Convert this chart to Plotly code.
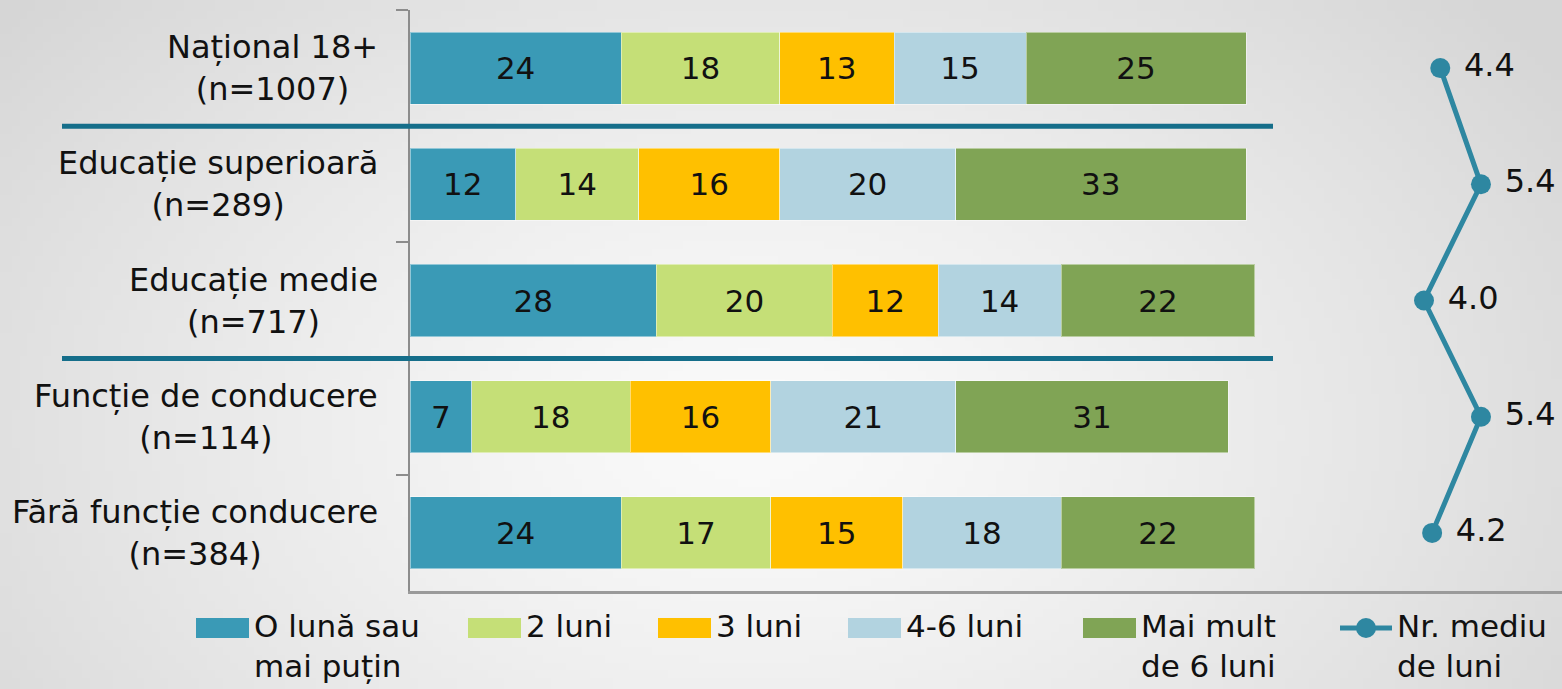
import base64, struct, zlib, math
import plotly.graph_objects as go

# ---------------- data ----------------
categories = ["Național 18+<br>(n=1007)", "Educație superioară<br>(n=289)", "Educație medie<br>(n=717)",
              "Funcție de conducere<br>(n=114)", "Fără funcție conducere<br>(n=384)"]
series_names = ["O lună sau<br>mai puțin", "2 luni", "3 luni", "4-6 luni", "Mai mult<br>de 6 luni"]
s_one_month = [24, 12, 28, 7, 24]
s_two_months = [18, 14, 20, 18, 17]
s_three_months = [13, 16, 12, 16, 15]
s_four_six = [15, 20, 14, 21, 18]
s_more_six = [25, 33, 22, 31, 22]
line_name = "Nr. mediu<br>de luni"
avg_months = [4.4, 5.4, 4.0, 5.4, 4.2]

series_values = [s_one_month, s_two_months, s_three_months, s_four_six, s_more_six]
colors = ["#3A9AB6", "#C5DF77", "#FFC000", "#B2D3E0", "#80A455"]
line_color = "#2E87A1"
sep_color = "#156E8A"

W, H = 1562, 689
FONT = "DejaVu Sans, Verdana, sans-serif"

# ---------------- background gradient image ----------------
def make_bg(w=200, h=90):
    cx, cy = 0.48 * w, 0.62 * h
    rx, ry = 0.62 * w, 0.95 * h
    raw = bytearray()
    for j in range(h):
        raw.append(0)
        for i in range(w):
            r = math.sqrt(((i - cx) / rx) ** 2 + ((j - cy) / ry) ** 2)
            g = int(round(250 - 36 * min(1.0, r) ** 1.3))
            raw.append(max(0, min(255, g)))
    def chunk(t, d):
        c = struct.pack(">I", len(d)) + t + d
        return c + struct.pack(">I", zlib.crc32(t + d) & 0xffffffff)
    png = b"\x89PNG\r\n\x1a\n" + chunk(b"IHDR", struct.pack(">IIBBBBB", w, h, 8, 0, 0, 0, 0)) \
        + chunk(b"IDAT", zlib.compress(bytes(raw), 9)) + chunk(b"IEND", b"")
    return "data:image/png;base64," + base64.b64encode(png).decode()

def px(x):
    return x / W

def py(y):
    return 1 - y / H

fig = go.Figure()

for name, vals, col in zip(series_names, series_values, colors):
    fig.add_trace(go.Bar(
        y=categories, x=vals, orientation="h", name=name.replace("<br>", " "),
        marker=dict(color=col, line=dict(color="rgba(255,255,255,0.45)", width=1)),
        text=vals, texttemplate="%{x}", textposition="inside", insidetextanchor="middle",
        textangle=0, textfont=dict(family=FONT, size=31, color="#111111"),
        constraintext="none", cliponaxis=False, showlegend=False,
        xaxis="x", yaxis="y",
    ))

fig.add_trace(go.Scatter(
    y=categories, x=avg_months, mode="lines+markers+text", name=line_name.replace("<br>", " "),
    line=dict(color=line_color, width=5), marker=dict(size=20, color=line_color),
    text=[f"{v:.1f}" for v in avg_months], texttemplate=" %{text}", textposition="middle right",
    textfont=dict(family=FONT, size=32, color="#111111"),
    cliponaxis=False, showlegend=False, xaxis="x2", yaxis="y",
))

# separator lines
shapes = []
for yb in [0.5, 2.5]:
    shapes.append(dict(type="line", xref="paper", yref="y", x0=px(62), x1=px(1273), y0=yb, y1=yb,
                       line=dict(color=sep_color, width=5), layer="above"))

annotations = []
# category labels
for i, c in enumerate(categories):
    annotations.append(dict(xref="paper", yref="y", x=px(380), y=i, text=c, showarrow=False,
                            xanchor="right", yanchor="middle", align="center",
                            font=dict(family=FONT, size=32, color="#111111")))

# manual legend
LEG_TOP = 606
sw_x = [196, 468, 658, 848, 1083]
for x0, col, name in zip(sw_x, colors, series_names):
    shapes.append(dict(type="rect", xref="paper", yref="paper", x0=px(x0), x1=px(x0 + 53),
                       y0=py(638), y1=py(618), fillcolor=col, line=dict(width=0)))
    annotations.append(dict(xref="paper", yref="paper", x=px(x0 + 56), y=py(LEG_TOP), text=name,
                            showarrow=False, xanchor="left", yanchor="top", align="left",
                            font=dict(family=FONT, size=31, color="#111111")))
lx = 1340
shapes.append(dict(type="line", xref="paper", yref="paper", x0=px(lx), x1=px(lx + 52), y0=py(628), y1=py(628),
                   line=dict(color=line_color, width=5)))
shapes.append(dict(type="circle", xref="paper", yref="paper", x0=px(lx + 16), x1=px(lx + 36),
                   y0=py(638), y1=py(618), fillcolor=line_color, line=dict(width=0)))
annotations.append(dict(xref="paper", yref="paper", x=px(lx + 55), y=py(LEG_TOP), text=line_name,
                        showarrow=False, xanchor="left", yanchor="top", align="left",
                        font=dict(family=FONT, size=31, color="#111111")))

x_units = 8.8  # px per percent
fig.update_layout(
    width=W, height=H, barmode="stack", bargap=0.38,
    margin=dict(l=0, r=0, t=0, b=0),
    paper_bgcolor="#e0e0e0", plot_bgcolor="rgba(0,0,0,0)",
    font=dict(family=FONT, size=30, color="#111111"),
    xaxis=dict(domain=[px(410), 1], range=[0, (W - 410) / x_units], showgrid=False, zeroline=False,
               showticklabels=False, ticks="", showline=True, linecolor="#9a9a9a", linewidth=3,
               anchor="y", fixedrange=True),
    xaxis2=dict(domain=[px(1300), 1], range=[4 - 124 / 40.7, 4 + 138 / 40.7], visible=False,
                anchor="y", fixedrange=True),
    yaxis=dict(domain=[py(591), py(10)], autorange="reversed", type="category",
               showticklabels=False, showgrid=False, zeroline=False, showline=True,
               linecolor="#8c8c8c", linewidth=2, ticks="outside", tickson="boundaries",
               ticklen=12, tickwidth=2, tickcolor="#8c8c8c", anchor="x", fixedrange=True),
    shapes=shapes, annotations=annotations,
    images=[dict(source=make_bg(), xref="paper", yref="paper", x=0, y=1, sizex=1, sizey=1,
                 sizing="stretch", layer="below", xanchor="left", yanchor="top")],
)

fig.write_html("out.html", config={"displayModeBar": False},
               post_script="document.body.style.margin='0';document.body.style.overflow='hidden';")
